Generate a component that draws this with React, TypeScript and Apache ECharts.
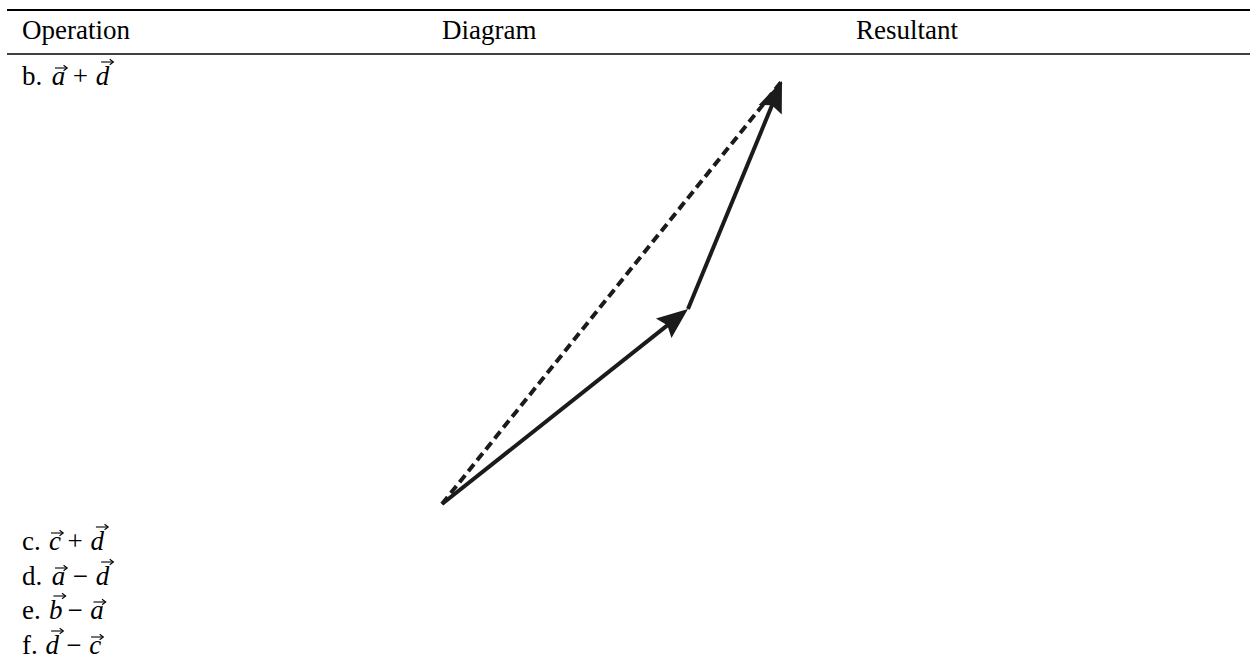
import React, { useEffect, useRef } from 'react';
import * as echarts from 'echarts';

// ---- data ----
const headers = ['Operation', 'Diagram', 'Resultant'];
const operationLabels = ['b.', 'c.', 'd.', 'e.', 'f.'];
const firstVectors = ['a', 'c', 'a', 'b', 'd'];
const operators = ['+', '+', '\u2212', '\u2212', '\u2212'];
const secondVectors = ['d', 'd', 'd', 'a', 'c'];
const origin = [0, 0];
const vectorA = [246, 195];
const vectorD = [94, 228];

// ---- layout / style ----
const FONT = '"Liberation Serif", "Times New Roman", serif';
const FS = 27;
const EM = 25;
const INK = '#1b1b1b';
const headerX = [22, 442, 856];
const headerY = 30;
const rowBaselines = [85, 550, 585, 619, 654];
const REG_W: Record<string, number> = { b: 0.556, c: 0.444, d: 0.556, e: 0.444, f: 0.306, '.': 0.278 };
const ITAL_W: Record<string, number> = { a: 0.529, b: 0.429, c: 0.433, d: 0.52 };

function txt(text: string, x: number, y: number, italic = false, align = 'left') {
  return {
    type: 'text',
    x,
    y,
    silent: true,
    style: {
      text,
      fontSize: FS,
      fontFamily: FONT,
      fontStyle: italic ? 'italic' : 'normal',
      fill: '#000',
      align,
      verticalAlign: 'middle',
    },
  };
}

function vecArrow(cx: number, y: number) {
  const half = 6;
  return [
    { type: 'line', silent: true, shape: { x1: cx - half, y1: y, x2: cx + half, y2: y }, style: { stroke: '#000', lineWidth: 1.1 } },
    {
      type: 'polyline',
      silent: true,
      shape: { points: [[cx + half - 3.4, y - 2.8], [cx + half + 0.3, y], [cx + half - 3.4, y + 2.8]] },
      style: { stroke: '#000', lineWidth: 1.1, fill: 'none' },
    },
  ];
}

function buildRows() {
  const els: any[] = [];
  operationLabels.forEach((label, i) => {
    const base = rowBaselines[i];
    const yMid = base - 9;
    const x0 = 22;
    const labelW = label.split('').reduce((s, ch) => s + (REG_W[ch] || 0.5), 0) * EM;
    const v1 = firstVectors[i];
    const v2 = secondVectors[i];
    const v1x = x0 + labelW + 0.36 * EM;
    const opx = v1x + ITAL_W[v1] * EM + 0.222 * EM;
    const v2x = opx + 0.778 * EM + 0.222 * EM;
    els.push(txt(label, x0, yMid));
    els.push(txt(v1, v1x, yMid, true));
    els.push(txt(operators[i], opx + 0.389 * EM, yMid, false, 'center'));
    els.push(txt(v2, v2x, yMid, true));
    [[v1, v1x], [v2, v2x]].forEach(([l, lx]: any) => {
      const asc = l === 'b' || l === 'd';
      const cx = lx + (ITAL_W[l] * EM) / 2 + (asc ? 0.2 : 0.1) * EM;
      const ay = base - (asc ? 23 : 17);
      els.push(...vecArrow(cx, ay));
    });
  });
  return els;
}

export default function App() {
  const ref = useRef<HTMLDivElement>(null);
  useEffect(() => {
    if (!ref.current) return;
    const chart = echarts.init(ref.current, undefined, { renderer: 'svg' });
    const tipA = [origin[0] + vectorA[0], origin[1] + vectorA[1]];
    const tipAD = [tipA[0] + vectorD[0], tipA[1] + vectorD[1]];
    const segments = [
      [origin[0], origin[1], tipAD[0], tipAD[1], 1, 0],
      [origin[0], origin[1], tipA[0], tipA[1], 0, 1],
      [tipA[0], tipA[1], tipAD[0], tipAD[1], 0, 1],
    ];
    const graphics: any[] = [
      { type: 'line', silent: true, shape: { x1: 7, y1: 10, x2: 1250, y2: 10 }, style: { stroke: '#000', lineWidth: 2 } },
      { type: 'line', silent: true, shape: { x1: 7, y1: 54, x2: 1250, y2: 54 }, style: { stroke: '#000', lineWidth: 1.3 } },
      ...headers.map((h, i) => txt(h, headerX[i], headerY)),
      ...buildRows(),
    ];
    chart.setOption({
      animation: false,
      backgroundColor: '#ffffff',
      grid: { left: 442, top: 4, width: 400, height: 500 },
      xAxis: { type: 'value', min: 0, max: 400, show: false },
      yAxis: { type: 'value', min: 0, max: 500, show: false },
      graphic: graphics,
      series: [
        {
          type: 'custom',
          clip: false,
          encode: { x: [0, 2], y: [1, 3] },
          data: segments,
          renderItem: (params: any, api: any) => {
            const p0 = api.coord([api.value(0), api.value(1)]);
            const p1 = api.coord([api.value(2), api.value(3)]);
            const dashed = api.value(4) === 1;
            const head = api.value(5) === 1;
            const dx = p1[0] - p0[0];
            const dy = p1[1] - p0[1];
            const len = Math.sqrt(dx * dx + dy * dy);
            const ux = dx / len;
            const uy = dy / len;
            const nx = -uy;
            const ny = ux;
            const L = 31;
            const W = 25;
            const children: any[] = [];
            const endBack = head ? L * 0.8 : 0;
            children.push({
              type: 'line',
              shape: { x1: p0[0], y1: p0[1], x2: p1[0] - ux * endBack, y2: p1[1] - uy * endBack },
              style: { stroke: INK, lineWidth: 4, lineDash: dashed ? [9, 5] : null, fill: null },
            });
            if (head) {
              children.push({
                type: 'polygon',
                shape: {
                  points: [
                    [p1[0], p1[1]],
                    [p1[0] - ux * L + (nx * W) / 2, p1[1] - uy * L + (ny * W) / 2],
                    [p1[0] - ux * L * 0.85, p1[1] - uy * L * 0.85],
                    [p1[0] - ux * L - (nx * W) / 2, p1[1] - uy * L - (ny * W) / 2],
                  ],
                },
                style: { fill: INK, stroke: null },
              });
            }
            return { type: 'group', children };
          },
        },
      ],
    });
    return () => chart.dispose();
  }, []);
  return (
    <div
      ref={ref}
      style={{ position: 'absolute', left: 0, top: 0, width: 1250, height: 669, background: '#fff' }}
    />
  );
}
